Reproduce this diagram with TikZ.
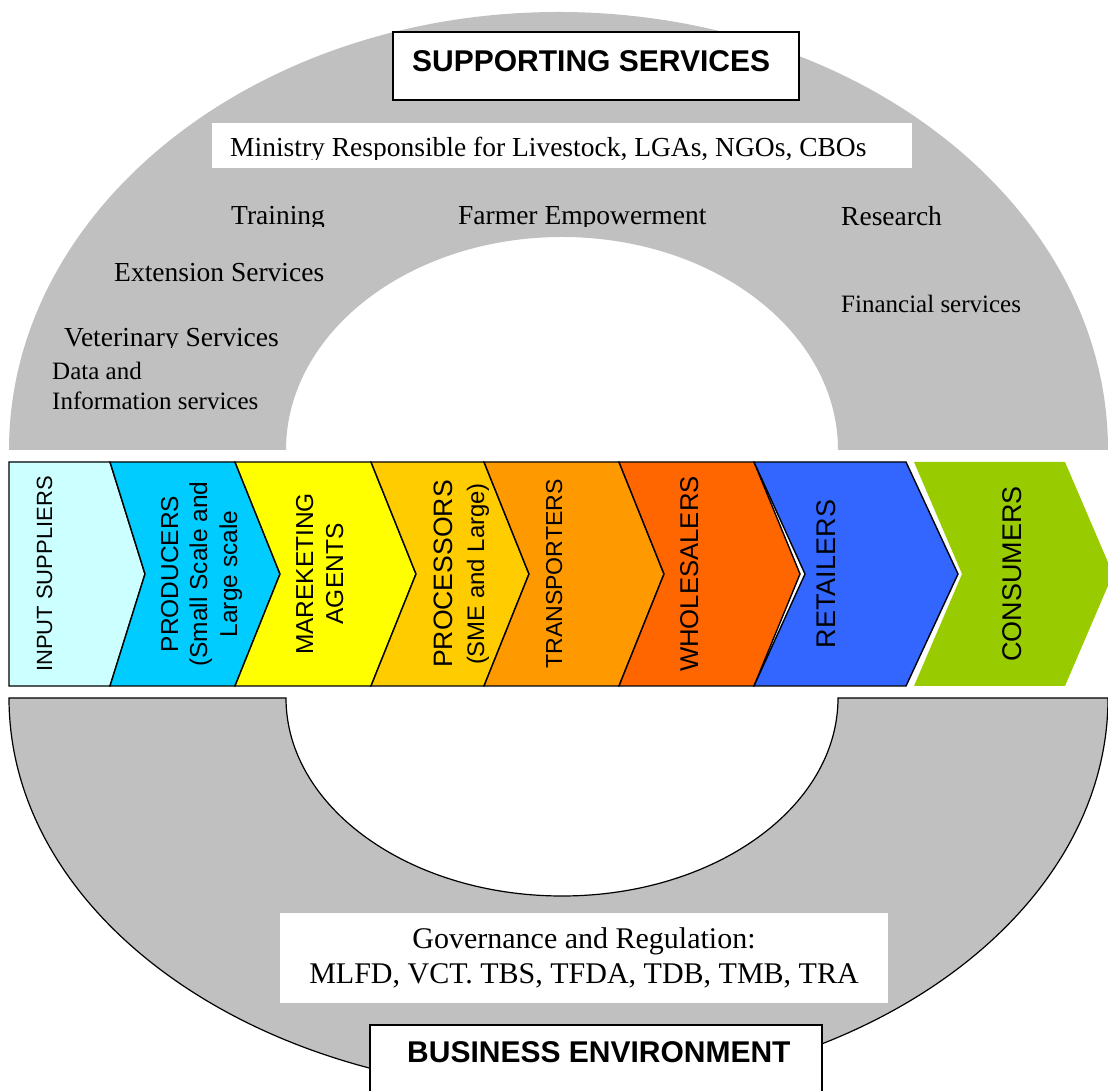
\documentclass[tikz,border=0pt]{standalone}
\usepackage{fontspec}
\setmainfont{Liberation Serif}
\setsansfont{Liberation Sans}
\definecolor{gry}{HTML}{C0C0C0}
\definecolor{cInput}{HTML}{CCFFFF}
\definecolor{cProd}{HTML}{00CCFF}
\definecolor{cMark}{HTML}{FFFF00}
\definecolor{cProc}{HTML}{FFCC00}
\definecolor{cTrans}{HTML}{FF9900}
\definecolor{cWhole}{HTML}{FF6600}
\definecolor{cRet}{HTML}{3366FF}
\definecolor{cCons}{HTML}{99CC00}
\tikzset{
  lab/.style={font=\fontsize{27.5}{33}\selectfont, inner sep=0pt, anchor=base west},
  labsm/.style={font=\fontsize{25}{30}\selectfont, inner sep=0pt, anchor=base west},
  gov/.style={font=\fontsize{30}{35}\selectfont, inner sep=0pt, anchor=base},
  headbox/.style={draw=black, line width=1.8pt, fill=white},
  headtxt/.style={font=\sffamily\bfseries\fontsize{30}{36}\selectfont, inner sep=0pt, anchor=base west},
  link/.style={draw=black, line width=1.4pt, line join=miter},
  vtxt/.style={font=\sffamily, inner sep=0pt, anchor=base, rotate=90},
}
\begin{document}
\begin{tikzpicture}[x=1pt,y=1pt]
\useasboundingbox (0,0) rectangle (1108,1090);
\clip (0,0) rectangle (1108,1090);
% upper band (supporting services)
\fill[gry] (9,640) arc[start angle=180,end angle=0,x radius=549.5,y radius=438]
  -- (838,640) arc[start angle=0,end angle=180,x radius=276,y radius=213] -- cycle;
% lower band (business environment)
\filldraw[fill=gry, draw=black, line width=1.2pt] (9,392) -- (286,392)
  arc[start angle=180,end angle=360,x radius=276,y radius=198]
  -- (1108,392) arc[start angle=0,end angle=-180,x radius=549.5,y radius=394] -- cycle;

% chain
\def\T{628}\def\B{404}\def\M{516}
\fill[cCons] (914,\T) -- (1065,\T) -- (1113,\M) -- (1065,\B) -- (914,\B) -- (962,\M) -- cycle;
\filldraw[link, fill=cInput] (9,\T) -- (110,\T) -- (145,\M) -- (110,\B) -- (9,\B) -- cycle;
\filldraw[link, fill=cProd] (110,\T) -- (235,\T) -- (280,\M) -- (235,\B) -- (110,\B) -- (145,\M) -- cycle;
\filldraw[link, fill=cMark] (235,\T) -- (371,\T) -- (416,\M) -- (371,\B) -- (235,\B) -- (280,\M) -- cycle;
\filldraw[link, fill=cProc] (371,\T) -- (484,\T) -- (529,\M) -- (484,\B) -- (371,\B) -- (416,\M) -- cycle;
\filldraw[link, fill=cTrans] (484,\T) -- (619,\T) -- (664,\M) -- (619,\B) -- (484,\B) -- (529,\M) -- cycle;
\filldraw[link, fill=cWhole] (619,\T) -- (754,\T) -- (800,\M) -- (754,\B) -- (619,\B) -- (664,\M) -- cycle;
\filldraw[link, fill=cRet] (754,\T) -- (906,\T) -- (958,\M) -- (906,\B) -- (754,\B) -- (805,\M) -- cycle;

\node[vtxt, font=\sffamily\fontsize{22}{26}\selectfont] (inp) at (52,\M) {INPUT SUPPLIERS};
\node[vtxt, font=\sffamily\fontsize{24.5}{29}\selectfont] (proA) at (178,\M) {PRODUCERS};
\node[vtxt, font=\sffamily\fontsize{24.5}{29}\selectfont] (proB) at (207,\M) {(Small Scale and};
\node[vtxt, font=\sffamily\fontsize{24.5}{29}\selectfont] (proC) at (237,\M) {Large scale};
\node[vtxt, font=\sffamily\fontsize{24.5}{29}\selectfont] (mkA) at (313,\M) {MAREKETING};
\node[vtxt, font=\sffamily\fontsize{24.5}{29}\selectfont] (mkB) at (343,\M) {AGENTS};
\node[vtxt, font=\sffamily\fontsize{26.6}{31}\selectfont] (pcA) at (452,\M) {PROCESSORS};
\node[vtxt, font=\sffamily\fontsize{23.9}{28}\selectfont] (pcB) at (484,\M) {(SME and Large)};
\node[vtxt, font=\sffamily\fontsize{23.1}{28}\selectfont] (trn) at (562,\M) {TRANSPORTERS};
\node[vtxt, font=\sffamily\fontsize{25.7}{30}\selectfont] (whl) at (698,\M) {WHOLESALERS};
\node[vtxt, font=\sffamily\fontsize{27}{32}\selectfont] (ret) at (835,\M) {RETAILERS};
\node[vtxt, font=\sffamily\fontsize{27}{32}\selectfont] (con) at (1021,\M) {CONSUMERS};

% supporting services labels
\draw[headbox] (393,990) rectangle (799,1058);
\node[headtxt] (sup) at (412,1018) {SUPPORTING SERVICES};
\fill[white] (212,922) rectangle (912,967);
\begin{scope}
  \clip (212,930.5) rectangle (912,967);
  \node[lab] (min) at (230,933) {Ministry Responsible for Livestock, LGAs, NGOs, CBOs};
\end{scope}
\begin{scope}
  \clip (200,863) rectangle (760,900);
  \node[lab] (trg) at (231,865) {Training};
  \node[lab] (far) at (458,865) {Farmer Empowerment};
\end{scope}
\node[lab] (res) at (841,864) {Research};
\node[lab] (ext) at (114,808) {Extension Services};
\begin{scope}
  \clip (40,742) rectangle (300,780);
  \node[lab] (vet) at (64,743) {Veterinary Services};
\end{scope}
\node[labsm] (datA) at (52,710) {Data and};
\node[labsm] (datB) at (52,680) {Information services};
\node[labsm] (fin) at (841,777) {Financial services};

% business environment labels
\fill[white] (280,87) rectangle (888,177);
\node[gov] (govA) at (584,142) {Governance and Regulation:};
\node[gov] (govB) at (584,107) {MLFD, VCT. TBS, TFDA, TDB, TMB, TRA};
\draw[headbox] (370,-20) rectangle (822,65);
\node[headtxt] (bus) at (407,28) {BUSINESS ENVIRONMENT};
\end{tikzpicture}
\end{document}
